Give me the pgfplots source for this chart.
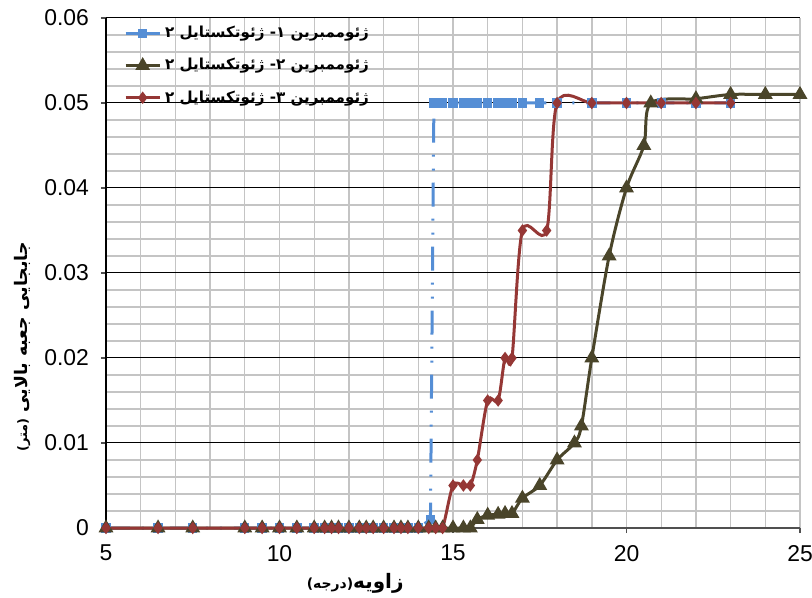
\documentclass[border=0pt]{standalone}
\usepackage{fontspec}
\setmainfont{Liberation Sans}
\newfontfamily\fa[Script=Arabic]{DejaVu Sans}
\TeXXeTstate=1
\usepackage{pgfplots}
\pgfplotsset{compat=1.18}
\definecolor{gblue}{HTML}{558ED5}
\definecolor{golive}{HTML}{4A452A}
\definecolor{gred}{HTML}{953735}
\definecolor{gridgray}{HTML}{C4C4C4}
\definecolor{axgray}{HTML}{505050}

\begin{document}
\begin{tikzpicture}
\begin{axis}[
  scale only axis, width=347bp, height=255bp,
  xmin=5, xmax=25, ymin=0, ymax=0.06,
  xtick={5,10,15,20,25}, xticklabels={5,10,15,20,25},
  ytick={0,0.01,0.02,0.03,0.04,0.05,0.06},
  yticklabels={0,0.01,0.02,0.03,0.04,0.05,0.06},
  scaled x ticks=false, scaled y ticks=false,
  minor x tick num=4, minor y tick num=4,
  grid=both,
  major x grid style={draw=gridgray, line width=0.7bp},
  minor x grid style={draw=gridgray, line width=0.7bp},
  major y grid style={draw=black, line width=0.5bp},
  minor y grid style={draw=gridgray, line width=0.7bp},
  axis lines*=left,
  x axis line style={draw=axgray, line width=1bp, -},
  y axis line style={draw=black, line width=0.7bp, -},
  tick align=outside, major tick length=2.5bp, minor tick length=0pt,
  tick style={draw=axgray, line width=0.7bp},
  ticklabel style={font=\fontsize{11.5}{13}\selectfont},
  xticklabel style={yshift=-2.5bp},
  yticklabel style={xshift=-2.5bp},
  xlabel={\fa\bfseries\beginR زاویه{\fontsize{7}{8}\selectfont(درجه)}\endR},
  xlabel style={at={(axis description cs:0.359,-0.108)}, anchor=center, font=\fontsize{10}{11}\selectfont},
  ylabel={\fa\bfseries\beginR جابجایی جعبه بالایی {\fontsize{6.5}{7}\selectfont(متر)}\endR},
  ylabel style={at={(axis description cs:-0.121,0.355)}, anchor=center, font=\fontsize{8.7}{10}\selectfont},
  clip=false,
  legend style={at={(axis description cs:0.017,1.0)}, anchor=north west, draw=none, fill=none,
    font=\fontsize{7.6}{9}\selectfont, row sep=4.8bp},
  legend cell align=left,
]
% geomembrane 1 - geotextile 2
\addplot[gblue, line width=1.5bp, dash pattern=on 12bp off 6bp on 1bp off 6bp on 1bp off 6bp,
  mark=square*, mark size=1.6bp, mark options={solid}, legend image post style={solid}]
  coordinates {(5,0) (6.5,0) (7.5,0) (9,0) (9.5,0) (10,0) (10.5,0) (11,0) (11.3,0) (11.5,0)
  (11.7,0) (12,0) (12.3,0) (12.5,0) (12.7,0) (13,0) (13.3,0) (13.5,0) (13.7,0) (14,0)
  (14.35,0.001) (14.45,0.05) (14.7,0.05) (15,0.05) (15.3,0.05) (15.5,0.05) (15.7,0.05)
  (16,0.05) (16.3,0.05) (16.5,0.05) (16.7,0.05) (17,0.05) (17.5,0.05) (18,0.05) (19,0.05)
  (20,0.05) (21,0.05) (22,0.05) (23,0.05)};
\addlegendentry{\fa\bfseries\beginR ژئوممبرین ۱- ژئوتکستایل ۲\endR}
% geomembrane 2 - geotextile 2
\addplot[golive, line width=1.5bp, smooth, tension=0.5, mark=triangle*, mark size=2.8bp]
  coordinates {(5,0) (6.5,0) (7.5,0) (9,0) (9.5,0) (10,0) (10.5,0) (11,0) (11.3,0) (11.5,0)
  (11.7,0) (12,0) (12.3,0) (12.5,0) (12.7,0) (13,0) (13.3,0) (13.5,0) (13.7,0) (14,0)
  (14.3,0) (14.5,0) (14.7,0) (15,0) (15.3,0) (15.5,0) (15.7,0.001) (16,0.0015) (16.3,0.0016)
  (16.5,0.0017) (16.7,0.0017) (17,0.0035) (17.5,0.005) (18,0.008) (18.5,0.01) (18.7,0.012)
  (19,0.02) (19.5,0.032) (20,0.04) (20.5,0.045) (20.7,0.05) (22,0.0505) (23,0.051)
  (24,0.051) (25,0.051)};
\addlegendentry{\fa\bfseries\beginR ژئوممبرین ۲- ژئوتکستایل ۲\endR}
% geomembrane 3 - geotextile 2
\addplot[gred, line width=1.5bp, smooth, tension=0.5, mark=diamond*, mark size=1.9bp]
  coordinates {(5,0) (6.5,0) (7.5,0) (9,0) (9.5,0) (10,0) (10.5,0) (11,0) (11.3,0) (11.5,0)
  (11.7,0) (12,0) (12.3,0) (12.5,0) (12.7,0) (13,0) (13.3,0) (13.5,0) (13.7,0) (14,0)
  (14.3,0) (14.5,0) (14.7,0) (15,0.005) (15.3,0.005) (15.5,0.005) (15.7,0.008) (16,0.015)
  (16.3,0.015) (16.5,0.02) (16.7,0.02) (17,0.035) (17.7,0.035) (18,0.05) (19,0.05)
  (20,0.05) (21,0.05) (22,0.05) (23,0.05)};
\addlegendentry{\fa\bfseries\beginR ژئوممبرین ۳- ژئوتکستایل ۲\endR}
\end{axis}
\pgfresetboundingbox
\path ([shift={(-53bp,-35bp)}]current axis.south west) rectangle ([shift={(6bp,9bp)}]current axis.north east);
\end{tikzpicture}
\end{document}
